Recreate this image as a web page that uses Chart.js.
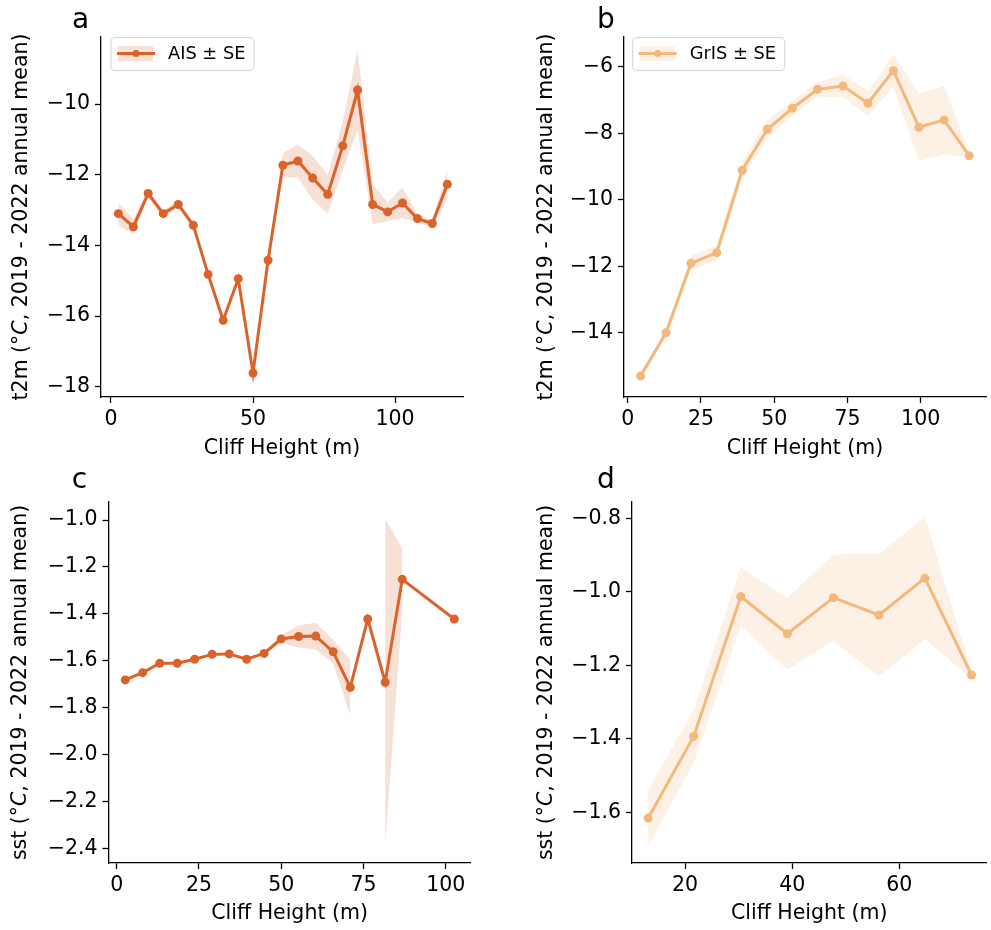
<!DOCTYPE html>
<html>
<head>
<meta charset="utf-8">
<script src="https://cdn.jsdelivr.net/npm/chart.js@4.4.1/dist/chart.umd.min.js"></script>
<style>
    body { margin: 0; background: #fff; }
    #wrap { position: relative; width: 991px; height: 930px; overflow: hidden; }
    canvas { position: absolute; }
</style>
</head>
<body>
<div id="wrap">
    <canvas id="chartA" width="490" height="465" style="left:0px;top:0px"></canvas>
    <canvas id="chartB" width="466" height="465" style="left:525px;top:0px"></canvas>
    <canvas id="chartC" width="490" height="465" style="left:0px;top:465px"></canvas>
    <canvas id="chartD" width="466" height="465" style="left:525px;top:465px"></canvas>
</div>
<script>
// panel a: AIS t2m
const aisT2mHeight = [2.6, 7.9, 13.1, 18.4, 23.7, 29.0, 34.2, 39.5, 44.8, 50.0, 55.3, 60.5, 65.8, 71.0, 76.3, 81.6, 86.8, 92.1, 97.4, 102.6, 107.9, 113.1, 118.4];
const aisT2mMean = [-13.10, -13.47, -12.53, -13.10, -12.84, -13.43, -14.82, -16.12, -14.94, -17.61, -14.42, -11.73, -11.61, -12.09, -12.55, -11.18, -9.60, -12.84, -13.05, -12.80, -13.24, -13.38, -12.27];
const aisT2mSE = [0.32, 0.21, 0.1, 0.1, 0.1, 0.1, 0.05, 0.05, 0.05, 0.15, 0.05, 0.35, 0.47, 0.62, 0.55, 0.7, 1.13, 0.57, 0.26, 0.43, 0.12, 0.1, 0.42];

// panel b: GrIS t2m
const grisT2mHeight = [4.4, 13.1, 21.6, 30.4, 39.1, 47.7, 56.2, 64.8, 73.5, 82.0, 90.7, 99.4, 108.0, 116.6];
const grisT2mMean = [-15.30, -14.00, -11.91, -11.59, -9.11, -7.88, -7.25, -6.68, -6.58, -7.10, -6.12, -7.82, -7.60, -8.68];
const grisT2mSE = [0.1, 0.12, 0.22, 0.22, 0.25, 0.27, 0.22, 0.22, 0.34, 0.38, 0.49, 1.01, 1.03, 0.05];

// panel c: AIS sst (null = no SE)
const aisSstHeight = [2.6, 7.9, 13.1, 18.4, 23.7, 29.0, 34.2, 39.5, 44.8, 50.0, 55.3, 60.5, 65.8, 71.0, 76.3, 81.6, 86.8, 102.6];
const aisSstMean = [-1.682, -1.651, -1.611, -1.611, -1.594, -1.573, -1.571, -1.594, -1.569, -1.507, -1.497, -1.495, -1.562, -1.714, -1.422, -1.692, -1.253, -1.422];
const aisSstSE = [0.005, 0.005, 0.005, 0.005, 0.005, 0.005, 0.005, 0.005, 0.005, 0.017, 0.047, 0.057, 0.05, 0.12, null, 0.70, 0.13, null];

// panel d: GrIS sst
const grisSstHeight = [13.1, 21.6, 30.4, 39.1, 47.7, 56.2, 64.8, 73.5];
const grisSstMean = [-1.615, -1.393, -1.013, -1.114, -1.016, -1.063, -0.963, -1.226];
const grisSstSE = [0.077, 0.072, 0.08, 0.097, 0.118, 0.167, 0.165, 0.01];

// tick labels
const ticksXA = [0, 50, 100];
const ticksXB = [0, 25, 50, 75, 100];
const ticksXC = [0, 25, 50, 75, 100];
const ticksXD = [20, 40, 60];
const ticksYA = [-18, -16, -14, -12, -10];
const ticksYB = [-14, -12, -10, -8, -6];
const ticksYC = [-2.4, -2.2, -2.0, -1.8, -1.6, -1.4, -1.2, -1.0];
const ticksYD = [-1.6, -1.4, -1.2, -1.0, -0.8];

const FONT = "'DejaVu Sans', sans-serif";
const FS = 20.5;
const AIS_COLOR = 'rgb(217, 99, 43)';
const AIS_BAND = 'rgba(217, 99, 43, 0.2)';
const GRIS_COLOR = 'rgb(244, 184, 125)';
const GRIS_BAND = 'rgba(244, 184, 125, 0.2)';

function points(xs, ys) {
    return xs.map((x, i) => ({ x: x, y: ys[i] }));
}

function bandEdge(means, se, sign) {
    return means.map((m, i) => se[i] === null ? null : m + sign * se[i]);
}

function fmt(v, dec) {
    return v.toFixed(dec).replace('-', '\u2212');
}

// y title (italic C), panel letter + legend
const decorPlugin = {
    id: 'decor',
    afterDraw(chart, args, opts) {
        const ctx = chart.ctx;
        const area = chart.chartArea;
        ctx.save();

        // rotated y-axis title, pieces: [text, italic]
        const parts = [[opts.yVar + ' (\u00b0', false], ['C', true], [', 2019 - 2022 annual mean)', false]];
        const normal = FS + 'px ' + FONT;
        const italic = 'oblique ' + FS + 'px ' + FONT;
        let total = 0;
        parts.forEach(pt => { ctx.font = pt[1] ? italic : normal; total += ctx.measureText(pt[0]).width; });
        ctx.translate(opts.titleX, (area.top + area.bottom) / 2);
        ctx.rotate(-Math.PI / 2);
        ctx.fillStyle = '#000';
        ctx.textAlign = 'left';
        ctx.textBaseline = 'middle';
        let pos = -total / 2;
        parts.forEach(pt => {
            ctx.font = pt[1] ? italic : normal;
            ctx.fillText(pt[0], pos, 0);
            pos += ctx.measureText(pt[0]).width;
        });
        ctx.setTransform(1, 0, 0, 1, 0, 0);

        ctx.font = '28px ' + FONT;
        ctx.textAlign = 'center';
        ctx.textBaseline = 'alphabetic';
        ctx.fillText(opts.letter, opts.letterX, opts.letterY);

        if (opts.legend) {
            const bx = area.left + opts.legendDx;
            const by = area.top + 0.5;
            const bw = opts.legendW;
            const bh = 33;
            ctx.beginPath();
            ctx.roundRect(bx, by, bw, bh, 4);
            ctx.fillStyle = 'rgba(255,255,255,0.8)';
            ctx.fill();
            ctx.strokeStyle = '#d4d4d4';
            ctx.lineWidth = 1;
            ctx.stroke();

            ctx.fillStyle = opts.band;
            ctx.fillRect(bx + 7, by + 8.5, 35, 15);
            ctx.strokeStyle = opts.color;
            ctx.lineWidth = 3;
            ctx.beginPath();
            ctx.moveTo(bx + 6, by + 16);
            ctx.lineTo(bx + 44, by + 16);
            ctx.stroke();
            ctx.fillStyle = opts.color;
            ctx.beginPath();
            ctx.arc(bx + 25, by + 16, 3.5, 0, Math.PI * 2);
            ctx.fill();

            ctx.fillStyle = '#000';
            ctx.font = '17.8px ' + FONT;
            ctx.textAlign = 'left';
            ctx.textBaseline = 'middle';
            ctx.fillText(opts.legend, bx + 57, by + 17);
        }
        ctx.restore();
    }
};

function makePanel(p) {
    const ctx = document.getElementById(p.id).getContext('2d');
    return new Chart(ctx, {
        type: 'line',
        data: {
            datasets: [
                {
                    data: points(p.xs, p.mean),
                    borderColor: p.color,
                    backgroundColor: p.color,
                    borderWidth: 3,
                    pointRadius: 4.5,
                    pointBorderWidth: 0,
                    fill: false
                },
                {
                    data: points(p.xs, bandEdge(p.mean, p.se, 1)),
                    borderWidth: 0,
                    borderColor: 'rgba(0,0,0,0)',
                    pointRadius: 0,
                    backgroundColor: p.band,
                    fill: '+1',
                    spanGaps: false
                },
                {
                    data: points(p.xs, bandEdge(p.mean, p.se, -1)),
                    borderWidth: 0,
                    borderColor: 'rgba(0,0,0,0)',
                    pointRadius: 0,
                    fill: false,
                    spanGaps: false
                }
            ]
        },
        options: {
            responsive: false,
            animation: false,
            devicePixelRatio: 1,
            layout: { padding: { left: 0, top: p.padTop, right: p.padRight, bottom: 0 } },
            plugins: {
                legend: { display: false },
                tooltip: { enabled: false },
                decor: {
                    yVar: p.yVar, titleX: p.titleX,
                    letter: p.letter, letterX: p.letterX, letterY: p.letterY,
                    legend: p.legend, legendDx: p.legendDx, legendW: p.legendW,
                    color: p.color, band: p.band
                }
            },
            scales: {
                x: {
                    type: 'linear',
                    min: p.xMin,
                    max: p.xMax,
                    afterBuildTicks: s => { s.ticks = p.xTicks.map(v => ({ value: v })); },
                    afterFit: s => { s.height = p.xHeight; },
                    grid: { display: true, drawOnChartArea: false, drawTicks: true, tickLength: 6, tickWidth: 1.3, color: '#000' },
                    border: { display: true, color: '#000', width: 1.3 },
                    ticks: {
                        color: '#000', font: { family: FONT, size: FS }, padding: 4,
                        maxRotation: 0, autoSkip: false,
                        callback: v => fmt(v, 0)
                    },
                    title: {
                        display: true, text: 'Cliff Height (m)', color: '#000',
                        font: { family: FONT, size: FS }, padding: { top: 0, bottom: 4 }
                    }
                },
                y: {
                    type: 'linear',
                    min: p.yMin,
                    max: p.yMax,
                    afterBuildTicks: s => { s.ticks = p.yTicks.map(v => ({ value: v })); },
                    afterFit: s => { s.width = p.yWidth; },
                    grid: { display: true, drawOnChartArea: false, drawTicks: true, tickLength: 6, tickWidth: 1.3, color: '#000' },
                    border: { display: true, color: '#000', width: 1.3 },
                    ticks: {
                        color: '#000', font: { family: FONT, size: FS }, padding: 5,
                        autoSkip: false,
                        callback: v => fmt(v, p.yDec)
                    }
                }
            }
        },
        plugins: [decorPlugin]
    });
}

makePanel({
    id: 'chartA', xs: aisT2mHeight, mean: aisT2mMean, se: aisT2mSE,
    color: AIS_COLOR, band: AIS_BAND,
    xMin: -3.5, xMax: 123.9, xTicks: ticksXA,
    yMin: -18.29, yMax: -8.10, yTicks: ticksYA, yDec: 0,
    yVar: 't2m', titleX: 21.5,
    padTop: 37, padRight: 27, yWidth: 101, xHeight: 68,
    letter: 'a', letterX: 80.5, letterY: 28,
    legend: 'AIS \u00b1 SE', legendDx: 10, legendW: 143
});

makePanel({
    id: 'chartB', xs: grisT2mHeight, mean: grisT2mMean, se: grisT2mSE,
    color: GRIS_COLOR, band: GRIS_BAND,
    xMin: -1.26, xMax: 122.3, xTicks: ticksXB,
    yMin: -15.93, yMax: -5.107, yTicks: ticksYB, yDec: 0,
    yVar: 't2m', titleX: 21.5,
    padTop: 37, padRight: 5, yWidth: 99, xHeight: 68,
    letter: 'b', letterX: 80.8, letterY: 28,
    legend: 'GrIS \u00b1 SE', legendDx: 8.7, legendW: 152
});

makePanel({
    id: 'chartC', xs: aisSstHeight, mean: aisSstMean, se: aisSstSE,
    color: AIS_COLOR, band: AIS_BAND,
    xMin: -2.49, xMax: 107.6, xTicks: ticksXC,
    yMin: -2.463, yMax: -0.923, yTicks: ticksYC, yDec: 1,
    yVar: 'sst', titleX: 20.5,
    padTop: 37, padRight: 19.3, yWidth: 108.5, xHeight: 67,
    letter: 'c', letterX: 79.5, letterY: 23
});

makePanel({
    id: 'chartD', xs: grisSstHeight, mean: grisSstMean, se: grisSstSE,
    color: GRIS_COLOR, band: GRIS_BAND,
    xMin: 10.08, xMax: 76.3, xTicks: ticksXD,
    yMin: -1.737, yMax: -0.756, yTicks: ticksYD, yDec: 1,
    yVar: 'sst', titleX: 22,
    padTop: 37, padRight: 0, yWidth: 107, xHeight: 67,
    letter: 'd', letterX: 80.8, letterY: 23
});
</script>
</body>
</html>
